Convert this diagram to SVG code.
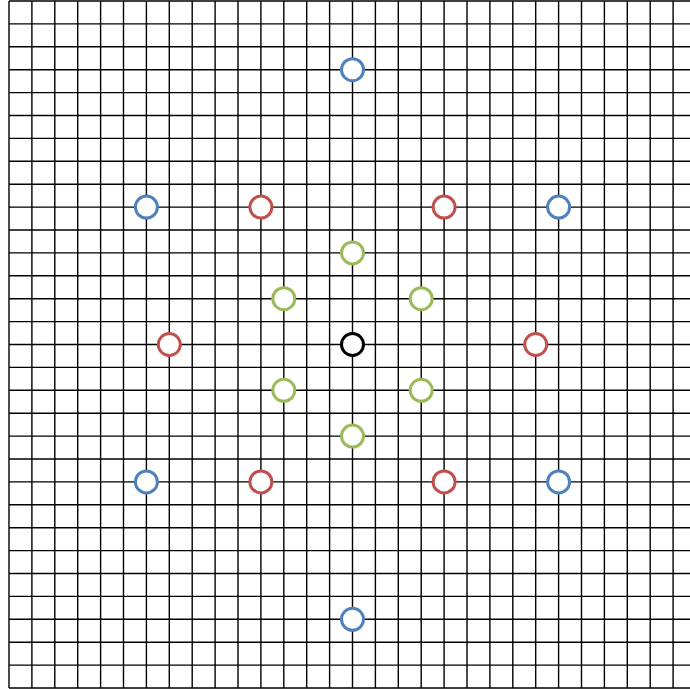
<svg xmlns="http://www.w3.org/2000/svg" width="690" height="689" viewBox="0 0 690 689">
<style>
.grid{stroke:#000;stroke-width:1.4;fill:none}
.n{fill:#fff;stroke-width:3}
.b{stroke:#4F81BD}.r{stroke:#C0504D}.g{stroke:#9BBB59}.k{stroke:#000}
</style>
<rect width="690" height="689" fill="#fff"/>
<g id="grid" class="grid">
<path d="M9 1V688M31.9 1V688M54.8 1V688M77.7 1V688M100.6 1V688M123.5 1V688M146.4 1V688M169.3 1V688M192.2 1V688M215.1 1V688M238 1V688M260.9 1V688M283.8 1V688M306.7 1V688M329.6 1V688M352.5 1V688M375.4 1V688M398.3 1V688M421.2 1V688M444.1 1V688M467 1V688M489.9 1V688M512.8 1V688M535.7 1V688M558.6 1V688M581.5 1V688M604.4 1V688M627.3 1V688M650.2 1V688M673.1 1V688"/>
<path d="M9 1H690M9 23.9H690M9 46.8H690M9 69.7H690M9 92.6H690M9 115.5H690M9 138.4H690M9 161.3H690M9 184.2H690M9 207.1H690M9 230H690M9 252.9H690M9 275.8H690M9 298.7H690M9 321.6H690M9 344.5H690M9 367.4H690M9 390.3H690M9 413.2H690M9 436.1H690M9 459H690M9 481.9H690M9 504.8H690M9 527.7H690M9 550.6H690M9 573.5H690M9 596.4H690M9 619.3H690M9 642.2H690M9 665.1H690M9 688H690"/>
</g>
<g id="connectors"></g>
<g id="center"><circle class="n k" cx="352.5" cy="344.5" r="11"/></g>
<g id="blue">
<circle class="n b" cx="352.5" cy="69.7" r="11"/>
<circle class="n b" cx="146.4" cy="207.1" r="11"/>
<circle class="n b" cx="558.6" cy="207.1" r="11"/>
<circle class="n b" cx="146.4" cy="481.9" r="11"/>
<circle class="n b" cx="558.6" cy="481.9" r="11"/>
<circle class="n b" cx="352.5" cy="619.3" r="11"/>
</g>
<g id="red">
<circle class="n r" cx="260.9" cy="207.1" r="11"/>
<circle class="n r" cx="444.1" cy="207.1" r="11"/>
<circle class="n r" cx="169.3" cy="344.5" r="11"/>
<circle class="n r" cx="535.7" cy="344.5" r="11"/>
<circle class="n r" cx="260.9" cy="481.9" r="11"/>
<circle class="n r" cx="444.1" cy="481.9" r="11"/>
</g>
<g id="green">
<circle class="n g" cx="352.5" cy="252.9" r="11"/>
<circle class="n g" cx="283.8" cy="298.7" r="11"/>
<circle class="n g" cx="421.2" cy="298.7" r="11"/>
<circle class="n g" cx="283.8" cy="390.3" r="11"/>
<circle class="n g" cx="421.2" cy="390.3" r="11"/>
<circle class="n g" cx="352.5" cy="436.1" r="11"/>
</g>
</svg>
